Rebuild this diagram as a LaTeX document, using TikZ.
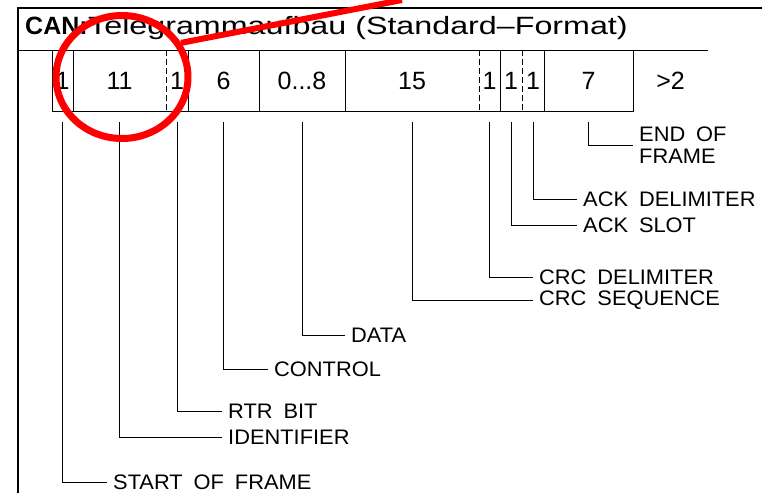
\documentclass[tikz,border=0pt]{standalone}
\usepackage{fontspec}
\usepackage{tikz}
\usetikzlibrary{shapes.geometric, calc}
\setmainfont{Liberation Sans}
\newfontfamily\titlefont[FakeStretch=1.29]{Liberation Sans}
\newfontfamily\tagfont[WordSpace=1.8, FakeStretch=1.04]{Liberation Sans}
\definecolor{markred}{HTML}{FF0000}
\newcommand\datalen{0...8}

\begin{document}
\begin{tikzpicture}[x=1pt, y=-1pt,
    field/.style={font=\fontsize{25}{30}\selectfont, inner sep=0pt},
    tag/.style={font=\tagfont\fontsize{21}{22}\selectfont, anchor=west, inner xsep=6pt, inner ysep=0pt, align=left},
    lead/.style={line width=0.9pt}]
  \useasboundingbox (0,0) rectangle (762,493);
  % frame and title
  \draw[line width=1.6pt] (18,493) -- (18,8) -- (762,8);
  \node[anchor=base west, inner sep=0pt, font=\fontsize{25}{30}\selectfont\bfseries] (can) at (25,34) {CAN:};
  \node[anchor=base west, inner sep=0pt, font=\titlefont\fontsize{25}{30}\selectfont] (title) at (88,34) {Telegrammaufbau (Standard\textendash Format)};
  % bit fields
  \draw[line width=1pt] (18,50) -- (708,50);
  \draw[line width=1pt] (52,50) -- (52,111) -- (633,111) -- (633,50);
  \foreach \x in {73,188,259,345,500,544}
    \draw[line width=1pt] (\x,50) -- (\x,111);
  \foreach \x in {166,479,522}
    \draw[line width=1pt, dash pattern=on 6pt off 3pt] (\x,50) -- (\x,111);
  \foreach \f/\a/\b/\txt in {sof/52/73/1, id/73/166/11, rtr/166/188/1, ctrl/188/259/6, data/259/345/\datalen,
      crc/345/479/15, crcd/479/500/1, ack/500/522/1, ackd/522/544/1, eof/544/633/7, ifs/633/708/{>2}}
    \node[field] (f-\f) at ({(\a+\b)/2},81) {\txt};
  % leaders
  \coordinate (leadtop) at (0,122);
  \foreach \f/\x/\y/\txt in {sof/107/482/START OF FRAME, id/222/437/IDENTIFIER, rtr/222/411/RTR BIT,
      ctrl/268/369/CONTROL, data/345/335/DATA, crc/533/300/CRC SEQUENCE, crcd/533/277/CRC DELIMITER,
      ack/577/225/ACK SLOT, ackd/577/199/ACK DELIMITER, eof/633/145/{END OF\\FRAME}}
  {
    \node[tag] (l-\f) at (\x,\y) {\txt};
    \draw[lead] (f-\f |- leadtop) |- (l-\f.west);
  }
  % red marking
  \begin{scope}
    \clip (0,0) rectangle (762,493);
    \node[ellipse, draw=markred, line width=7pt, minimum width=132pt, minimum height=123pt, inner sep=0pt] (ring) at (122,77) {};
    \coordinate (pointer) at (402,0);
    \draw[markred, line width=6pt] (ring.30) -- (pointer);
  \end{scope}
\end{tikzpicture}
\end{document}
